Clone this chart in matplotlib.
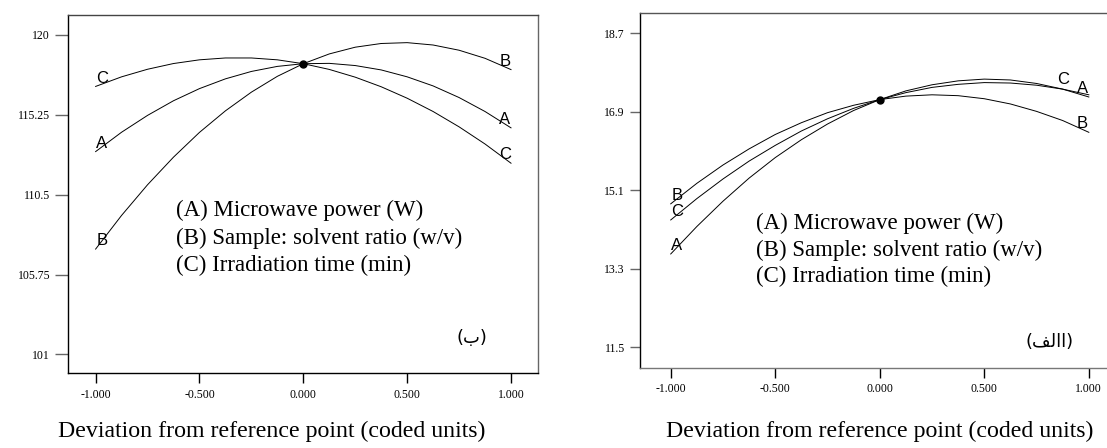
import matplotlib
matplotlib.use("Agg")
import matplotlib.pyplot as plt

# coded deviation from the reference point
x = [-1.0, -0.875, -0.75, -0.625, -0.5, -0.375, -0.25, -0.125, 0.0,
     0.125, 0.25, 0.375, 0.5, 0.625, 0.75, 0.875, 1.0]

# panel (b) - left
left_A = [113.05, 114.20, 115.20, 116.07, 116.79, 117.37, 117.81, 118.11, 118.27,
          118.29, 118.16, 117.90, 117.49, 116.95, 116.26, 115.43, 114.46]
left_B = [107.26, 109.26, 111.08, 112.72, 114.19, 115.47, 116.58, 117.52, 118.27,
          118.85, 119.25, 119.47, 119.52, 119.38, 119.07, 118.59, 117.92]
left_C = [116.92, 117.49, 117.94, 118.28, 118.50, 118.61, 118.61, 118.50, 118.27,
          117.93, 117.47, 116.90, 116.22, 115.43, 114.52, 113.50, 112.36]
left_yticks = [101, 105.75, 110.5, 115.25, 120]
left_ref = 118.27

# panel (alef) - right
right_A = [13.64, 14.27, 14.85, 15.38, 15.85, 16.26, 16.62, 16.93, 17.18,
           17.38, 17.52, 17.61, 17.65, 17.63, 17.55, 17.42, 17.24]
right_B = [14.79, 15.26, 15.68, 16.05, 16.38, 16.65, 16.88, 17.05, 17.18,
           17.26, 17.29, 17.27, 17.20, 17.08, 16.91, 16.70, 16.43]
right_C = [14.42, 14.91, 15.36, 15.77, 16.13, 16.46, 16.74, 16.98, 17.18,
           17.34, 17.46, 17.53, 17.57, 17.56, 17.51, 17.42, 17.29]
right_yticks = [11.5, 13.3, 15.1, 16.9, 18.7]
right_ref = 17.18

xticks = [-1.0, -0.5, 0.0, 0.5, 1.0]
factor_names = ["A", "B", "C"]
factor_labels = ["(A) Microwave power (W)",
                 "(B) Sample: solvent ratio (w/v)",
                 "(C) Irradiation time (min)"]
xlabel = "Deviation from reference point (coded units)"

serif = ["Liberation Serif", "DejaVu Serif"]
sans = ["Liberation Sans", "DejaVu Sans"]

fig = plt.figure(figsize=(11.07, 4.48), dpi=100)
W, H = 1107.0, 448.0


def setup(ax, yticks, xlim, ylim, ytick_len):
    ax.set_xlim(*xlim)
    ax.set_ylim(*ylim)
    ax.set_xticks(xticks)
    ax.set_xticklabels(["%.3f" % v for v in xticks])
    ax.set_yticks(yticks)
    ax.set_yticklabels([("%g" % v) for v in yticks])
    ax.tick_params(axis="y", length=ytick_len, width=1.0, color="#666666", pad=3.5)
    ax.tick_params(axis="x", length=7.2, width=1.0, color="black", pad=4)
    for lab in ax.get_xticklabels() + ax.get_yticklabels():
        lab.set_family(serif)
        lab.set_fontsize(8.5)
    for s in ax.spines.values():
        s.set_linewidth(1.0)


def draw(ax, series, ref, right_idx):
    for name, ys, ri in zip(factor_names, series, right_idx):
        ax.plot(x, ys, color="black", lw=0.7)
        ax.annotate(name, (x[0], ys[0]), xytext=(4.5, 6), textcoords="offset points",
                    ha="center", va="center", fontsize=12, family=sans)
        off = (-4.5, 6) if ri == len(x) - 1 else (0, 7)
        ax.annotate(name, (x[ri], ys[ri]), xytext=off, textcoords="offset points",
                    ha="center", va="center", fontsize=12, family=sans)
    ax.plot([0], [ref], "o", color="black", ms=5)


# left panel
ax1 = fig.add_axes([68 / W, (H - 373) / H, 470 / W, 358.3 / H])
setup(ax1, left_yticks, (-1.133, 1.130), (99.90, 121.18), 9.4)
draw(ax1, [left_A, left_B, left_C], left_ref, [16, 16, 16])
ax1.spines["top"].set_color("#444444")
ax1.spines["right"].set_color("#666666")
for i, t in enumerate(factor_labels):
    ax1.text(-0.613, [109.54, 107.90, 106.31][i], t, ha="left", va="center",
             fontsize=16.5, family=serif)
ax1.text(0.812, 101.98, "(ب)", ha="center", va="center", fontsize=13,
         family=["DejaVu Sans"])

# right panel
ax2 = fig.add_axes([640 / W, (H - 367.7) / H, 490 / W, 354.4 / H])
setup(ax2, right_yticks, (-1.147, 1.197), (11.032, 19.159), 7.5)
draw(ax2, [right_A, right_B, right_C], right_ref, [16, 16, 15])
ax2.spines["top"].set_color("#555555")
ax2.spines["bottom"].set_color("#777777")
for i, t in enumerate(factor_labels):
    ax2.text(-0.590, [14.35, 13.73, 13.12][i], t, ha="left", va="center",
             fontsize=16.5, family=serif)
# "(االف)" in visual order with joined forms
ax2.text(0.813, 11.62, "(\ufed2\ufedf\u0627\u0627)", ha="center", va="center",
         fontsize=13, family=["DejaVu Sans"])

fig.text(272 / W, (H - 431) / H, xlabel, ha="center", va="center", fontsize=17.2, family=serif)
fig.text(880 / W, (H - 431) / H, xlabel, ha="center", va="center", fontsize=17.2, family=serif)

fig.savefig("out.png", dpi=100)
